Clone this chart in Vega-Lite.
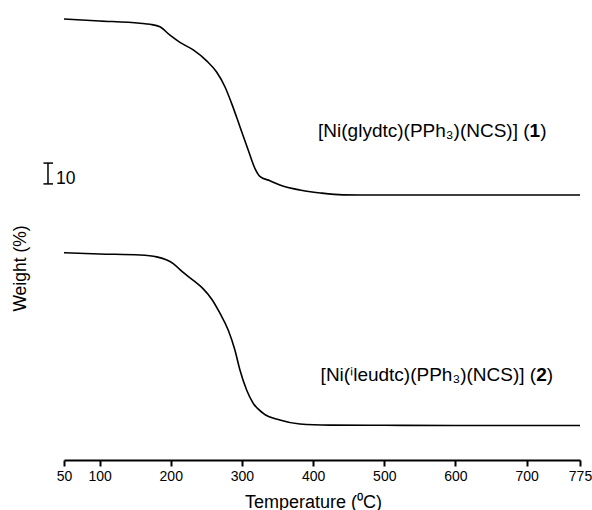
{
  "$schema": "https://vega.github.io/schema/vega-lite/v6.json",
  "autosize": {"type": "none"},
  "width": 516,
  "height": 450,
  "padding": {"left": 64, "top": 10, "right": 12, "bottom": 50},
  "background": "white",
  "config": {
    "view": {"stroke": null},
    "font": "Liberation Sans",
    "text": {"font": "Liberation Sans"}
  },
  "layer": [
    {
      "data": {"values": [
        {"s": "1", "T": 50, "v": 209.7},
        {"s": "1", "T": 100, "v": 208.8},
        {"s": "1", "T": 156.7, "v": 207.7},
        {"s": "1", "T": 171, "v": 207.2},
        {"s": "1", "T": 184.8, "v": 206.0},
        {"s": "1", "T": 198.9, "v": 202.0},
        {"s": "1", "T": 212.9, "v": 198.6},
        {"s": "1", "T": 231.6, "v": 195.0},
        {"s": "1", "T": 250.4, "v": 189.8},
        {"s": "1", "T": 264.4, "v": 184.5},
        {"s": "1", "T": 276.1, "v": 177.5},
        {"s": "1", "T": 285.5, "v": 169.6},
        {"s": "1", "T": 297.2, "v": 158.5},
        {"s": "1", "T": 308.8, "v": 147.4},
        {"s": "1", "T": 318.2, "v": 138.7},
        {"s": "1", "T": 325.2, "v": 134.9},
        {"s": "1", "T": 339.3, "v": 132.8},
        {"s": "1", "T": 353.3, "v": 130.8},
        {"s": "1", "T": 381.4, "v": 128.4},
        {"s": "1", "T": 410, "v": 127.0},
        {"s": "1", "T": 441.8, "v": 126.1},
        {"s": "1", "T": 500, "v": 126.0},
        {"s": "1", "T": 600, "v": 126.0},
        {"s": "1", "T": 700, "v": 126.0},
        {"s": "1", "T": 775, "v": 126.0},
        {"s": "2", "T": 50, "v": 98.6},
        {"s": "2", "T": 100, "v": 98.0},
        {"s": "2", "T": 156.7, "v": 97.5},
        {"s": "2", "T": 180.2, "v": 96.6},
        {"s": "2", "T": 203.5, "v": 93.4},
        {"s": "2", "T": 215.3, "v": 89.8},
        {"s": "2", "T": 234, "v": 84.8},
        {"s": "2", "T": 245.6, "v": 81.4},
        {"s": "2", "T": 257.4, "v": 76.6},
        {"s": "2", "T": 269.1, "v": 69.8},
        {"s": "2", "T": 280.7, "v": 61.8},
        {"s": "2", "T": 290.1, "v": 52.3},
        {"s": "2", "T": 297.2, "v": 42.8},
        {"s": "2", "T": 306.6, "v": 33.3},
        {"s": "2", "T": 315.8, "v": 27.0},
        {"s": "2", "T": 329.9, "v": 22.2},
        {"s": "2", "T": 353.3, "v": 19.0},
        {"s": "2", "T": 381.4, "v": 17.1},
        {"s": "2", "T": 423.5, "v": 16.6},
        {"s": "2", "T": 500, "v": 16.5},
        {"s": "2", "T": 600, "v": 16.4},
        {"s": "2", "T": 700, "v": 16.4},
        {"s": "2", "T": 775, "v": 16.4}
      ]},
      "mark": {"type": "line", "color": "black", "strokeWidth": 1.6, "interpolate": "monotone"},
      "encoding": {
        "x": {
          "field": "T", "type": "quantitative",
          "scale": {"domain": [50, 775], "nice": false, "zero": false},
          "axis": {
            "title": "Temperature (⁰C)",
            "values": [50, 100, 200, 300, 400, 500, 600, 700, 775],
            "grid": false,
            "domainColor": "black", "domainWidth": 2,
            "tickColor": "black", "tickWidth": 2, "tickSize": 6,
            "labelFont": "Liberation Sans", "labelFontSize": 14, "labelColor": "black",
            "labelPadding": 3, "labelFlush": false, "labelOverlap": false,
            "titleFont": "Liberation Sans", "titleFontSize": 18, "titleFontWeight": "normal",
            "titleColor": "black", "titleX": 249, "titleY": 47, "titleBaseline": "alphabetic"
          }
        },
        "y": {
          "field": "v", "type": "quantitative",
          "scale": {"domain": [0, 214], "nice": false, "zero": false},
          "axis": {
            "title": "Weight (%)",
            "domain": false, "ticks": false, "labels": false, "grid": false,
            "titleFont": "Liberation Sans", "titleFontSize": 17.5, "titleFontWeight": "normal",
            "titleColor": "black", "titleX": -44, "titleY": 258, "titleAngle": -90,
            "titleAlign": "center", "titleBaseline": "middle"
          }
        },
        "detail": {"field": "s"}
      }
    },
    {
      "data": {"values": [{"T": 27.5, "v": 131.3, "v2": 141.2}]},
      "mark": {"type": "rule", "color": "black", "strokeWidth": 1.5},
      "encoding": {
        "x": {"field": "T", "type": "quantitative"},
        "y": {"field": "v", "type": "quantitative"},
        "y2": {"field": "v2"}
      }
    },
    {
      "data": {"values": [{"T": 21.2, "T2": 34.6, "v": 131.3}, {"T": 21.2, "T2": 34.6, "v": 141.2}]},
      "mark": {"type": "rule", "color": "black", "strokeWidth": 1.5},
      "encoding": {
        "x": {"field": "T", "type": "quantitative"},
        "x2": {"field": "T2"},
        "y": {"field": "v", "type": "quantitative"}
      }
    },
    {
      "data": {"values": [{"T": 38.8, "v": 131.1, "txt": "10"}]},
      "mark": {"type": "text", "align": "left", "baseline": "alphabetic", "fontSize": 17.5, "color": "black"},
      "encoding": {
        "x": {"field": "T", "type": "quantitative"},
        "y": {"field": "v", "type": "quantitative"},
        "text": {"field": "txt"}
      }
    },
    {
      "data": {"values": [
        {"T": 704.1, "v": 153.4, "txt": "[Ni(glydtc)(PPh₃)(NCS)] ("},
        {"T": 727.9, "v": 153.4, "txt": ")"},
        {"T": 713.4, "v": 37.7, "txt": "[Ni(ⁱleudtc)(PPh₃)(NCS)] ("},
        {"T": 737.1, "v": 37.7, "txt": ")"}
      ]},
      "mark": {"type": "text", "align": "right", "baseline": "alphabetic", "fontSize": 19, "color": "black"},
      "encoding": {
        "x": {"field": "T", "type": "quantitative"},
        "y": {"field": "v", "type": "quantitative"},
        "text": {"field": "txt"}
      }
    },
    {
      "data": {"values": [
        {"T": 719.0, "v": 153.4, "txt": "1"},
        {"T": 728.3, "v": 37.7, "txt": "2"}
      ]},
      "mark": {"type": "text", "align": "right", "baseline": "alphabetic", "fontSize": 19, "fontWeight": "bold", "color": "black"},
      "encoding": {
        "x": {"field": "T", "type": "quantitative"},
        "y": {"field": "v", "type": "quantitative"},
        "text": {"field": "txt"}
      }
    }
  ]
}
